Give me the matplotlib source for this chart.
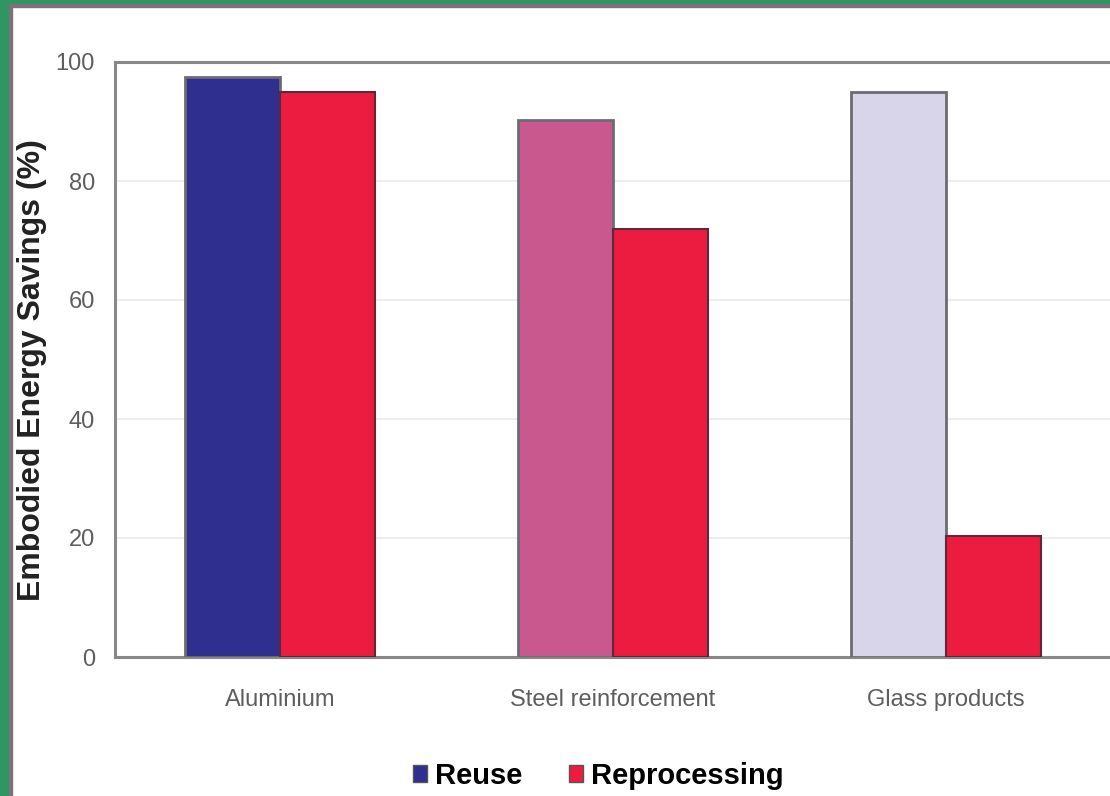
import matplotlib
matplotlib.use("Agg")
import matplotlib.pyplot as plt
from matplotlib.patches import Patch, Rectangle
import numpy as np

categories = ["Aluminium", "Steel reinforcement", "Glass products"]
reuse = [97.5, 90.3, 95.0]
reprocessing = [95.0, 72.0, 20.3]
reuse_colors = ["#2e2f8f", "#c9588f", "#d8d5ea"]
reproc_color = "#ec1b40"
yticks = [0, 20, 40, 60, 80, 100]
legend_labels = ["Reuse", "Reprocessing"]

sans = ["Liberation Sans", "DejaVu Sans"]

fig = plt.figure(figsize=(11.10, 7.96), dpi=100)
fig.patch.set_facecolor("white")

# green frame + grey inner line
fig.patches.append(Rectangle((0, 0), 9/1110, 1, transform=fig.transFigure, color="#2e9563", zorder=0))
fig.patches.append(Rectangle((0, 1-4/796), 1, 4/796, transform=fig.transFigure, color="#2e9563", zorder=0))
fig.patches.append(Rectangle((9/1110, 0), 3/1110, 1-4/796, transform=fig.transFigure, color="#7a7478", zorder=0))
fig.patches.append(Rectangle((9/1110, 1-7/796), 1, 3/796, transform=fig.transFigure, color="#7a7478", zorder=0))

ax = fig.add_axes([115/1110, 1-657/796, 1000/1110, (657-62)/796])
x = np.arange(len(categories))
w = 0.285
ax.bar(x - w/2, reuse, width=w, color=reuse_colors, edgecolor="#6e6a72", linewidth=2.0, zorder=3)
ax.bar(x + w/2, reprocessing, width=w, color=reproc_color, edgecolor="#5a2a38", linewidth=1.5, zorder=3)

ax.set_xlim(-0.495, 2.507)
ax.set_ylim(0, 100)
ax.set_yticks(yticks)
ax.set_yticklabels([str(t) for t in yticks], family=sans, fontsize=17, color="#5e5e5e")
ax.set_xticks(x)
ax.set_xticklabels(categories, family=sans, fontsize=17, color="#5e5e5e")
ax.tick_params(axis="both", length=0)
ax.tick_params(axis="y", pad=14.5)
ax.tick_params(axis="x", pad=23)
ax.grid(axis="y", color="#eeeeee", linewidth=1.5, zorder=0)
for s in ax.spines.values():
    s.set_color("#888888")
    s.set_linewidth(2.2)

ax.set_ylabel("Embodied Energy Savings (%)", fontsize=23, fontweight="bold", color="#222222",
              family=sans)
ax.yaxis.set_label_coords(-0.068, 0.482)

handles = [Patch(facecolor=reuse_colors[0], edgecolor="#555555"), Patch(facecolor=reproc_color, edgecolor="#555555")]
fig.legend(handles, legend_labels, loc="center", bbox_to_anchor=(598/1110, 1-776/796), ncol=2, frameon=False,
           prop={"family": sans, "size": 21, "weight": "bold"}, handlelength=0.5, handleheight=0.5,
           handletextpad=0.25, columnspacing=1.6)

fig.savefig("out.png", dpi=100, facecolor="white")
